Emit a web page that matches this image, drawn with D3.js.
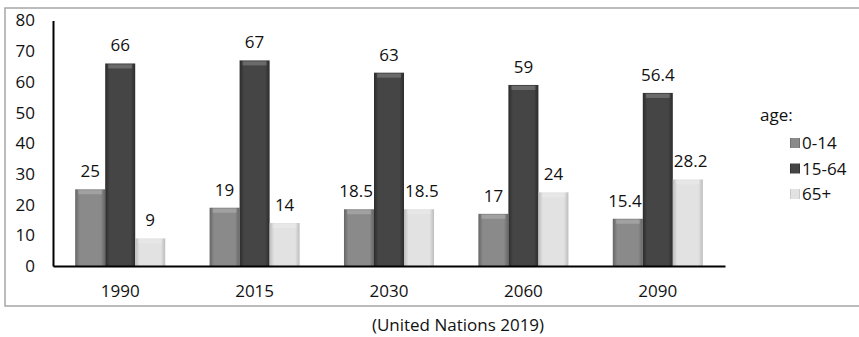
<!doctype html>
<html>
<head>
    <style>
        body { margin: 0; background: #fff; }
        svg text { font-family: "Open Sans", sans-serif; fill: #111; }
        .axis text { font-size: 17px; }
        .val { font-size: 17px; }
    </style>
    <script src="https://d3js.org/d3.v7.min.js"></script>
</head>
<body>
<svg width="859" height="337"></svg>
<script>
    // data
    var years = ["1990", "2015", "2030", "2060", "2090"];
    var groups = ["0-14", "15-64", "65+"];
    var young = [25, 19, 18.5, 17, 15.4];
    var working = [66, 67, 63, 59, 56.4];
    var old = [9, 14, 18.5, 24, 28.2];
    var yTicks = [0, 10, 20, 30, 40, 50, 60, 70, 80];

    var series = [young, working, old];
    var data = [];
    years.forEach(function(y, i) {
        groups.forEach(function(g, j) {
            data.push({year: y, group: g, gi: j, value: series[j][i]});
        });
    });

    var svg = d3.select("svg");

    // outer frame
    svg.append("rect")
       .attr("x", 5).attr("y", 8)
       .attr("width", 900).attr("height", 298)
       .attr("fill", "none")
       .attr("stroke", "#a6a6a6")
       .attr("stroke-width", 1.5);

    // bevel-ish gradients for each group
    var shades = [
        {id: "g0", edge: "#666", mid: "#8a8a8a"},
        {id: "g1", edge: "#2c2c2c", mid: "#454545"},
        {id: "g2", edge: "#bdbdbd", mid: "#e2e2e2"}
    ];
    var defs = svg.append("defs");
    shades.forEach(function(s) {
        var lg = defs.append("linearGradient").attr("id", s.id)
                     .attr("x1", "0").attr("x2", "1").attr("y1", "0").attr("y2", "0");
        lg.append("stop").attr("offset", "0%").attr("stop-color", s.edge);
        lg.append("stop").attr("offset", "15%").attr("stop-color", s.mid);
        lg.append("stop").attr("offset", "85%").attr("stop-color", s.mid);
        lg.append("stop").attr("offset", "100%").attr("stop-color", s.edge);
    });

    var x0 = d3.scaleBand().domain(years).range([53, 725]).paddingInner(0.33).paddingOuter(0.165);
    var x1 = d3.scaleBand().domain(groups).range([0, x0.bandwidth()]);
    var y = d3.scaleLinear().domain([0, 80]).range([266, 20.5]);

    // bars
    var g = svg.append("g");
    g.selectAll(".bar")
     .data(data)
     .enter().append("rect")
     .attr("class", "bar")
     .attr("x", function(d) { return x0(d.year) + x1(d.group); })
     .attr("y", function(d) { return y(d.value); })
     .attr("width", x1.bandwidth())
     .attr("height", function(d) { return y(0) - y(d.value); })
     .attr("fill", function(d) { return "url(#g" + d.gi + ")"; });

    // top highlight on each bar
    g.selectAll(".cap")
     .data(data)
     .enter().append("rect")
     .attr("x", function(d) { return x0(d.year) + x1(d.group) + 3; })
     .attr("y", function(d) { return y(d.value) + 1; })
     .attr("width", x1.bandwidth() - 6)
     .attr("height", 4)
     .attr("fill", "#fff")
     .attr("opacity", 0.2);

    // value labels; side bars pushed outward when the text is wider than the bar
    g.selectAll(".val")
     .data(data)
     .enter().append("text")
     .attr("class", "val")
     .attr("text-anchor", "middle")
     .attr("y", function(d) { return y(d.value) - 12; })
     .text(function(d) { return d.value; })
     .attr("x", function(d) {
         var cx = x0(d.year) + x1(d.group) + x1.bandwidth() / 2;
         var extra = Math.max(0, this.getComputedTextLength() - x1.bandwidth() + 2) / 2;
         if (d.gi === 0) return cx - extra;
         if (d.gi === 2) return cx + extra;
         return cx;
     });

    // y axis
    svg.append("g")
       .attr("class", "axis")
       .attr("transform", "translate(53,0)")
       .call(d3.axisLeft(y).tickValues(yTicks).tickSize(0).tickPadding(18))
       .call(function(a) { a.select(".domain").attr("stroke", "#000").attr("stroke-width", 2); });

    // x axis
    svg.append("g")
       .attr("class", "axis")
       .attr("transform", "translate(0,266)")
       .call(d3.axisBottom(x0).tickSize(0).tickPadding(19))
       .call(function(a) { a.select(".domain").attr("stroke", "#000").attr("stroke-width", 2); });

    // legend
    var leg = svg.append("g");
    leg.append("text").attr("x", 760).attr("y", 121).style("font-size", "17px").text("age:");
    var items = leg.selectAll(".item")
                   .data(groups)
                   .enter().append("g")
                   .attr("transform", function(d, i) { return "translate(790," + (138 + i * 25.5) + ")"; });
    items.append("rect")
         .attr("width", 10).attr("height", 10)
         .attr("fill", function(d, i) { return "url(#g" + i + ")"; });
    items.append("text")
         .attr("x", 12).attr("y", 11)
         .style("font-size", "17px")
         .text(function(d) { return d; });

    // source note
    svg.append("text")
       .attr("x", 458).attr("y", 331)
       .attr("text-anchor", "middle")
       .style("font-size", "17px")
       .text("(United Nations 2019)");
</script>
</body>
</html>
